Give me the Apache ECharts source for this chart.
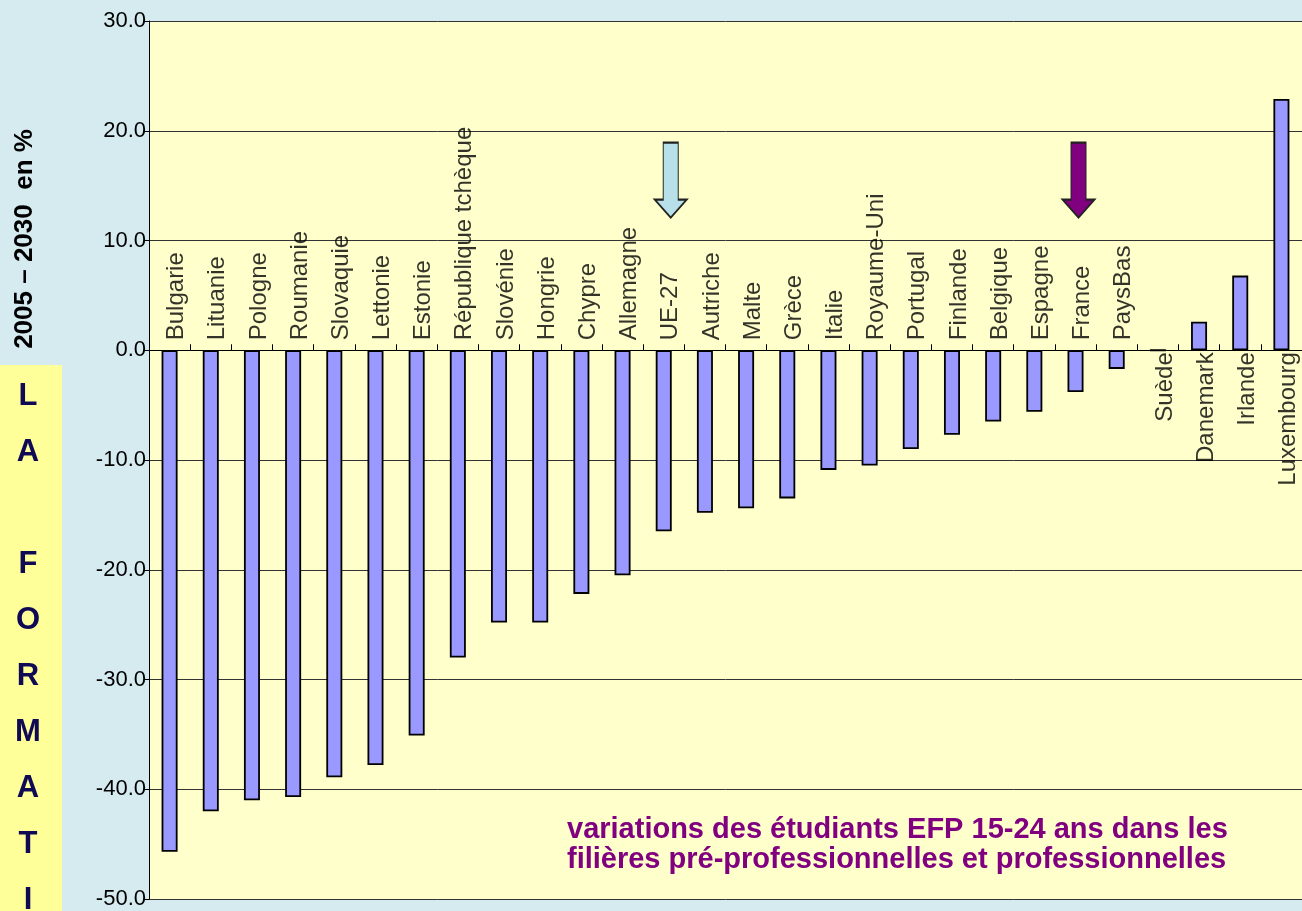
<!DOCTYPE html>
<html>
<head>
<meta charset="utf-8">
<script src="https://cdn.jsdelivr.net/npm/echarts@6/dist/echarts.min.js"></script>
<style>
  html, body { margin: 0; padding: 0; background: #d6ebf0; }
  #chart { width: 1302px; height: 911px; }
</style>
</head>
<body>
<div id="chart"></div>
<script>
const countries = ['Bulgarie', 'Lituanie', 'Pologne', 'Roumanie', 'Slovaquie', 'Lettonie', 'Estonie',
  'République tchèque', 'Slovénie', 'Hongrie', 'Chypre', 'Allemagne', 'UE-27', 'Autriche', 'Malte',
  'Grèce', 'Italie', 'Royaume-Uni', 'Portugal', 'Finlande', 'Belgique', 'Espagne', 'France', 'PaysBas',
  'Suède', 'Danemark', 'Irlande', 'Luxembourg']
const variation = [-45.7, -42.0, -41.0, -40.7, -38.9, -37.8, -35.1, -28.0, -24.8, -24.8, -22.2, -20.5,
  -16.5, -14.8, -14.4, -13.5, -10.9, -10.5, -9.0, -7.7, -6.5, -5.6, -3.8, -1.7, 0, 2.6, 6.8, 22.9]
const yTicks = { min: -50, max: 30, step: 10 }
const sideTitle = '2005 – 2030  en %'
const columnWord = 'LA FORMATION'
const noteLines = ['variations des étudiants EFP 15-24 ans dans les', 'filières pré-professionnelles et professionnelles']
const arrows = [{ name: 'UE-27', value: 15.5 }, { name: 'France', value: 15.5 }]

const font = '"Liberation Sans", Arial, sans-serif'
const arrowPath = 'path://M8.5,0 L23.5,0 L23.5,57 L32,57 L16,75 L0,57 L8.5,57 Z'

const chart = echarts.init(document.getElementById('chart'))

// country names sit on the zero line: above it for falling bars, below for rising ones
const nameLabels = countries.map((c, i) => {
  const up = variation[i] < 0
  return {
    value: [c, 0],
    label: {
      show: true,
      formatter: c,
      rotate: 90,
      position: up ? 'top' : 'bottom',
      distance: up ? 10 : 2,
      align: up ? 'left' : 'right',
      verticalAlign: 'middle',
      offset: [0, 7],
      fontSize: 24,
      fontFamily: font,
      color: '#000',
    },
  }
})

const columnLetters = columnWord.split('').map((ch, i) => ({
  type: 'text',
  x: 28,
  y: 396 + i * 56,
  style: { text: ch, fill: '#100a55', font: 'bold 31px ' + font, textAlign: 'center', textVerticalAlign: 'middle' },
}))

chart.setOption({
  backgroundColor: '#d6ebf0',
  animation: false,
  grid: {
    left: 149, right: 0, top: 21, bottom: 12,
    outerBoundsMode: 'none',
    containLabel: false,
    show: true, backgroundColor: '#ffffcc', borderWidth: 0,
  },
  xAxis: {
    type: 'category',
    data: countries,
    axisLine: { onZero: true, lineStyle: { color: '#000', width: 1 } },
    axisTick: { show: true, interval: 0, inside: true, length: 6, lineStyle: { color: '#000' } },
    axisLabel: { show: false },
  },
  yAxis: {
    type: 'value',
    min: yTicks.min,
    max: yTicks.max,
    interval: yTicks.step,
    axisLine: { show: true, lineStyle: { color: '#000', width: 1 } },
    axisTick: { show: true, length: 5, lineStyle: { color: '#000' } },
    axisLabel: { fontSize: 22, fontFamily: font, color: '#000', margin: 3, formatter: (v) => v.toFixed(1) },
    splitLine: { lineStyle: { color: '#333', width: 1 } },
  },
  series: [
    {
      type: 'bar',
      data: variation,
      barWidth: 16,
      itemStyle: { color: '#9999ff', borderColor: '#000', borderWidth: 1.8 },
      markPoint: {
        symbol: arrowPath,
        symbolSize: [32, 75],
        symbolKeepAspect: false,
        label: { show: false },
        data: arrows.map((a, i) => ({
          coord: [a.name, a.value],
          symbolOffset: i === 0 ? [7, 0] : [3, 0],
          itemStyle: i === 0
            ? { color: '#b8e0e8', borderColor: '#222', borderWidth: 1.5 }
            : { color: '#800080', borderColor: '#222', borderWidth: 1.5 },
        })),
      },
    },
    {
      type: 'scatter',
      data: nameLabels,
      symbolSize: 0,
      silent: true,
      z: 5,
    },
  ],
  graphic: [
    {
      type: 'text',
      x: 25,
      y: 239,
      rotation: Math.PI / 2,
      style: { text: sideTitle, fill: '#000', font: 'bold 26px ' + font, textAlign: 'center', textVerticalAlign: 'middle' },
    },
    { type: 'rect', shape: { x: 0, y: 365, width: 62, height: 546 }, style: { fill: '#ffff99' }, z: 0 },
    ...columnLetters,
    ...noteLines.map((t, i) => ({
      type: 'text',
      x: 567,
      y: 830 + i * 30,
      style: { text: t, fill: '#800080', font: 'bold 29px ' + font, textAlign: 'left', textVerticalAlign: 'middle' },
    })),
  ],
})
</script>
</body>
</html>
